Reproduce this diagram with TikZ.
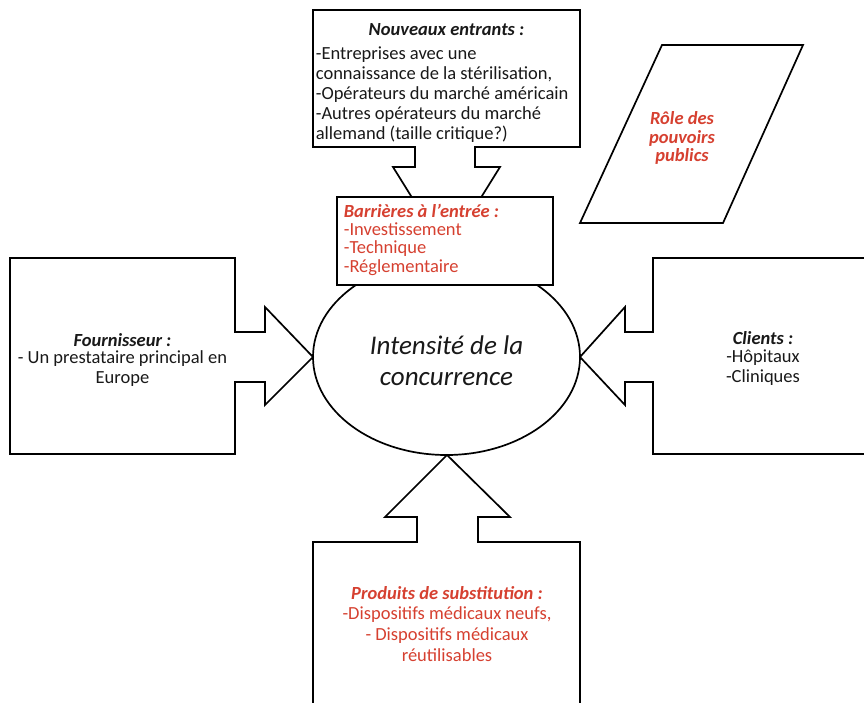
\documentclass[tikz,border=0pt]{standalone}
\usepackage{fontspec}
\setmainfont{Carlito}
\usetikzlibrary{shapes.geometric}
\definecolor{redtxt}{RGB}{214,64,48}
\begin{document}
\begin{tikzpicture}[x=1pt,y=-1pt,line width=1.7pt,line join=miter,
  outline/.style={draw=black,fill=white},
  txt/.style={font=\fontsize{18.5}{20}\selectfont,inner sep=0pt,text=black!90},
  title/.style={txt,font=\fontsize{18.5}{20}\selectfont\bfseries\itshape},
  redtitle/.style={title,text=redtxt},
  redtxtstyle/.style={txt,text=redtxt}]
\useasboundingbox (0,0) rectangle (864,702);

% central ellipse
\node[outline,ellipse,minimum width=267pt,minimum height=196pt,inner sep=0pt] (ell) at (446.5,357) {};
\node[txt,font=\fontsize{27}{31}\selectfont\itshape,align=center] (elltxt) at (446.5,361) {Intensité de la\\concurrence};

% top callout (nouveaux entrants)
\draw[outline] (313,10) -- (580,10) -- (580,147) -- (475,147) -- (475,167) -- (500,167)
  -- (446.5,253) -- (393,167) -- (415,167) -- (415,147) -- (313,147) -- cycle;
\node[title] (nt) at (446.5,30) {Nouveaux entrants :};
\node[txt,align=left,anchor=west] (nb) at (315,95) {-Entreprises avec une\\connaissance de la stérilisation,\\-Opérateurs du marché américain\\-Autres opérateurs du marché\\allemand (taille critique?)};

% barrier box
\draw[outline] (337,197) rectangle (553,285);
\node[redtitle,anchor=west] (bt) at (343,211) {Barrières à l’entrée :};
\node[redtxtstyle,font=\fontsize{18.5}{18.7}\selectfont,align=left,anchor=west] (bb) at (343,249) {-Investissement\\-Technique\\-Réglementaire};

% left callout (fournisseur)
\draw[outline] (10,258) -- (235,258) -- (235,332) -- (265,332) -- (265,307) -- (313,357)
  -- (265,405) -- (265,382) -- (235,382) -- (235,454) -- (10,454) -- cycle;
\node[title] (ft) at (122.5,340) {Fournisseur :};
\node[txt,align=center] (fb) at (122.5,369) {- Un prestataire principal en\\Europe};

% right callout (clients)
\draw[outline] (864,258) -- (653,258) -- (653,332) -- (625,332) -- (625,307) -- (580,357)
  -- (625,405) -- (625,382) -- (653,382) -- (653,454) -- (864,454);
\node[title] (ct) at (763,338) {Clients :};
\node[txt,align=center] (cb) at (763,368) {-Hôpitaux\\-Cliniques};

% bottom callout (produits de substitution)
\draw[outline] (313,704) -- (313,542) -- (417,542) -- (417,517) -- (385,517) -- (447,455)
  -- (510,517) -- (478,517) -- (478,542) -- (580,542) -- (580,704);
\node[redtitle] (pt) at (447,593) {Produits de substitution :};
\node[redtxtstyle,font=\fontsize{18.5}{21}\selectfont,align=center] (pb) at (447,634.5) {-Dispositifs médicaux neufs,\\- Dispositifs médicaux\\réutilisables};

% parallelogram (pouvoirs publics)
\draw[outline] (662,45) -- (803,45) -- (723,223) -- (580,223) -- cycle;
\node[redtitle,font=\fontsize{18.5}{18.5}\selectfont\bfseries\itshape,align=center] (rp) at (682,138) {Rôle des\\pouvoirs\\publics};
\end{tikzpicture}
\end{document}
